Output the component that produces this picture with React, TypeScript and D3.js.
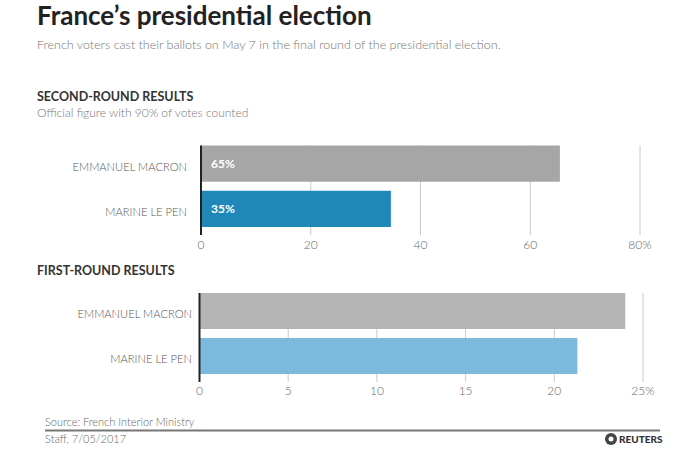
import React from 'react';
import * as d3 from 'd3';

const candidates = ['EMMANUEL MACRON', 'MARINE LE PEN'];
const secondRoundValues = [65.4, 34.6];
const secondRoundLabels = ['65%', '35%'];
const secondRoundTicks = [0, 20, 40, 60, 80];
const firstRoundValues = [24.0, 21.3];
const firstRoundTicks = [0, 5, 10, 15, 20, 25];

const FONT = 'Lato, "Open Sans", sans-serif';

type PanelProps = {
  values: number[];
  labels?: string[];
  ticks: number[];
  domainMax: number;
  x0: number;
  x1: number;
  yTop: number;
  yBottom: number;
  axisBottom: number;
  tickY: number;
  labelRight: number;
  colors: string[];
};

function Panel(p: PanelProps) {
  const x = d3.scaleLinear().domain([0, p.domainMax]).range([p.x0, p.x1]);
  const y = d3.scaleBand<string>().domain(candidates).range([p.yTop, p.yBottom]).paddingInner(0.2);
  const last = p.ticks[p.ticks.length - 1];
  return (
    <g>
      {p.ticks.filter((t) => t > 0).map((t) => (
        <line key={'g' + t} x1={x(t)} x2={x(t)} y1={p.yTop} y2={p.axisBottom} stroke="#c8c8c8" strokeWidth={1} />
      ))}
      {candidates.map((c, i) => (
        <rect key={c} x={x(0)} y={y(c)} width={x(p.values[i]) - x(0)} height={y.bandwidth()} fill={p.colors[i]} />
      ))}
      <line x1={x(0)} x2={x(0)} y1={p.yTop} y2={p.axisBottom} stroke="#222" strokeWidth={2} />
      {p.labels &&
        candidates.map((c, i) => (
          <text key={'v' + c} x={x(0) + 10} y={(y(c) as number) + y.bandwidth() / 2} dy="0.35em"
            fill="#fff" fontWeight={700} fontSize={12} fontFamily={FONT}>
            {p.labels![i]}
          </text>
        ))}
      {candidates.map((c) => (
        <text key={'c' + c} x={p.labelRight} y={(y(c) as number) + y.bandwidth() / 2 + 3} dy="0.35em"
          textAnchor="end" fill="#555" fontSize={11.2} fontFamily={FONT} fontWeight={300}>
          {c}
        </text>
      ))}
      {p.ticks.map((t) => (
        <text key={'t' + t} x={x(t)} y={p.tickY} dy="0.35em" textAnchor="middle" fill="#666"
          fontSize={12} fontFamily={FONT} fontWeight={300}>
          {t === last ? `${t}%` : `${t}`}
        </text>
      ))}
    </g>
  );
}

export default function App() {
  return (
    <svg width={700} height={450} style={{ position: 'absolute', left: 0, top: 0, background: '#fff' }}>
      <rect width={700} height={450} fill="#fff" />
      <text x={37} y={24.5} fontFamily={FONT} fontWeight={700} fontSize={26} fill="#222">
        France’s presidential election
      </text>
      <text x={37} y={49} fontFamily={FONT} fontWeight={300} fontSize={12.5} fill="#777">
        French voters cast their ballots on May 7 in the final round of the presidential election.
      </text>
      <text x={37} y={100.5} fontFamily={FONT} fontWeight={700} fontSize={12.5} fill="#333">
        SECOND-ROUND RESULTS
      </text>
      <text x={37} y={117} fontFamily={FONT} fontWeight={300} fontSize={12} fill="#777">
        Official figure with 90% of votes counted
      </text>
      <Panel values={secondRoundValues} labels={secondRoundLabels} ticks={secondRoundTicks} domainMax={80}
        x0={201} x1={640} yTop={145.5} yBottom={227} axisBottom={235} tickY={245} labelRight={187}
        colors={['#a6a6a6', '#1f88b8']} />
      <text x={37} y={275} fontFamily={FONT} fontWeight={700} fontSize={12.5} fill="#333">
        FIRST-ROUND RESULTS
      </text>
      <Panel values={firstRoundValues} ticks={firstRoundTicks} domainMax={25}
        x0={199.5} x1={643} yTop={293} yBottom={374} axisBottom={382} tickY={391} labelRight={192}
        colors={['#b4b4b4', '#7db9dd']} />
      <text x={45} y={425.5} fontFamily={FONT} fontWeight={300} fontSize={11} fill="#666">
        Source: French Interior Ministry
      </text>
      <line x1={45} x2={660} y1={430.5} y2={430.5} stroke="#777" strokeWidth={2} />
      <text x={45} y={443} fontFamily={FONT} fontWeight={300} fontSize={11} fill="#666">
        Staff, 7/05/2017
      </text>
      <circle cx={611} cy={439} r={6} fill="#444" />
      <circle cx={611} cy={439} r={2.5} fill="#fff" />
      <text x={619} y={443} fontFamily={FONT} fontWeight={900} fontSize={10} fill="#333">
        REUTERS
      </text>
    </svg>
  );
}
